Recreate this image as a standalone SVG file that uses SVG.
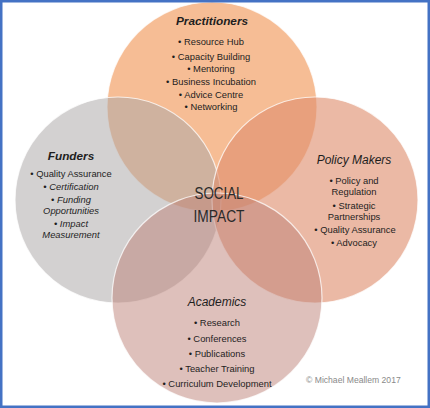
<svg xmlns="http://www.w3.org/2000/svg" width="430" height="408" viewBox="0 0 430 408">
<style>
.c{stroke:#ffffff;stroke-opacity:0.75;stroke-width:1.2}
text{font-family:"Liberation Sans",Arial,sans-serif;fill:#1e1e1e;text-anchor:middle}
.h{font-size:12px;font-style:italic}
.hb{font-size:11.8px;font-style:italic;font-weight:bold}
.b{font-size:9.4px}
.i{font-size:9.4px;font-style:italic}
.big{font-size:16px;fill:#2a2a2a}
.cp{font-size:8.6px;fill:#8a8a8a;text-anchor:start}
</style>
<rect x="0" y="0" width="430" height="408" fill="#ffffff"/>
<g id="practitioners">
<circle class="c" cx="212" cy="107" r="105" fill="#F4B183" fill-opacity="0.85"/>
</g>
<g id="funders">
<circle class="c" cx="118" cy="200" r="103" fill="#ABA9A9" fill-opacity="0.53"/>
</g>
<g id="policy-makers">
<circle class="c" cx="315" cy="200" r="103" fill="#DE8E6E" fill-opacity="0.62"/>
</g>
<g id="academics">
<circle class="c" cx="217" cy="298" r="105" fill="#BE8278" fill-opacity="0.5"/>
</g>
<g id="connectors"></g>
<g id="practitioners-text">
<text class="hb" x="212" y="25">Practitioners</text>
<text class="b" x="211" y="45">• Resource Hub</text>
<text class="b" x="211" y="59.5">• Capacity Building</text>
<text class="b" x="211" y="72">• Mentoring</text>
<text class="b" x="211" y="85">• Business Incubation</text>
<text class="b" x="211" y="98">• Advice Centre</text>
<text class="b" x="211" y="110">• Networking</text>
</g>
<g id="funders-text">
<text class="hb" x="71" y="160">Funders</text>
<text class="b" x="71" y="177">• Quality Assurance</text>
<text class="i" x="71" y="189.5">• Certification</text>
<text class="i" x="71" y="203">• Funding</text>
<text class="i" x="71" y="213.5">Opportunities</text>
<text class="i" x="71" y="227">• Impact</text>
<text class="i" x="71" y="237.5">Measurement</text>
</g>
<g id="policy-text">
<text class="h" x="354" y="164">Policy Makers</text>
<text class="b" x="354" y="184">• Policy and</text>
<text class="b" x="354" y="195">Regulation</text>
<text class="b" x="354" y="209">• Strategic</text>
<text class="b" x="354" y="220">Partnerships</text>
<text class="b" x="355" y="233">• Quality Assurance</text>
<text class="b" x="354" y="246">• Advocacy</text>
</g>
<g id="center">
<text class="big" x="219" y="199" textLength="49" lengthAdjust="spacingAndGlyphs">SOCIAL</text>
<text class="big" x="219" y="222" textLength="51" lengthAdjust="spacingAndGlyphs">IMPACT</text>
</g>
<g id="academics-text">
<text class="h" x="217" y="306">Academics</text>
<text class="b" x="217" y="326">• Research</text>
<text class="b" x="217" y="342">• Conferences</text>
<text class="b" x="217" y="357">• Publications</text>
<text class="b" x="217" y="372">• Teacher Training</text>
<text class="b" x="217" y="387">• Curriculum Development</text>
</g>
<text class="cp" x="306" y="383">© Michael Meallem 2017</text>
<rect x="1.25" y="1.25" width="427.5" height="405.5" fill="none" stroke="#4472C4" stroke-width="2.5"/>
</svg>
